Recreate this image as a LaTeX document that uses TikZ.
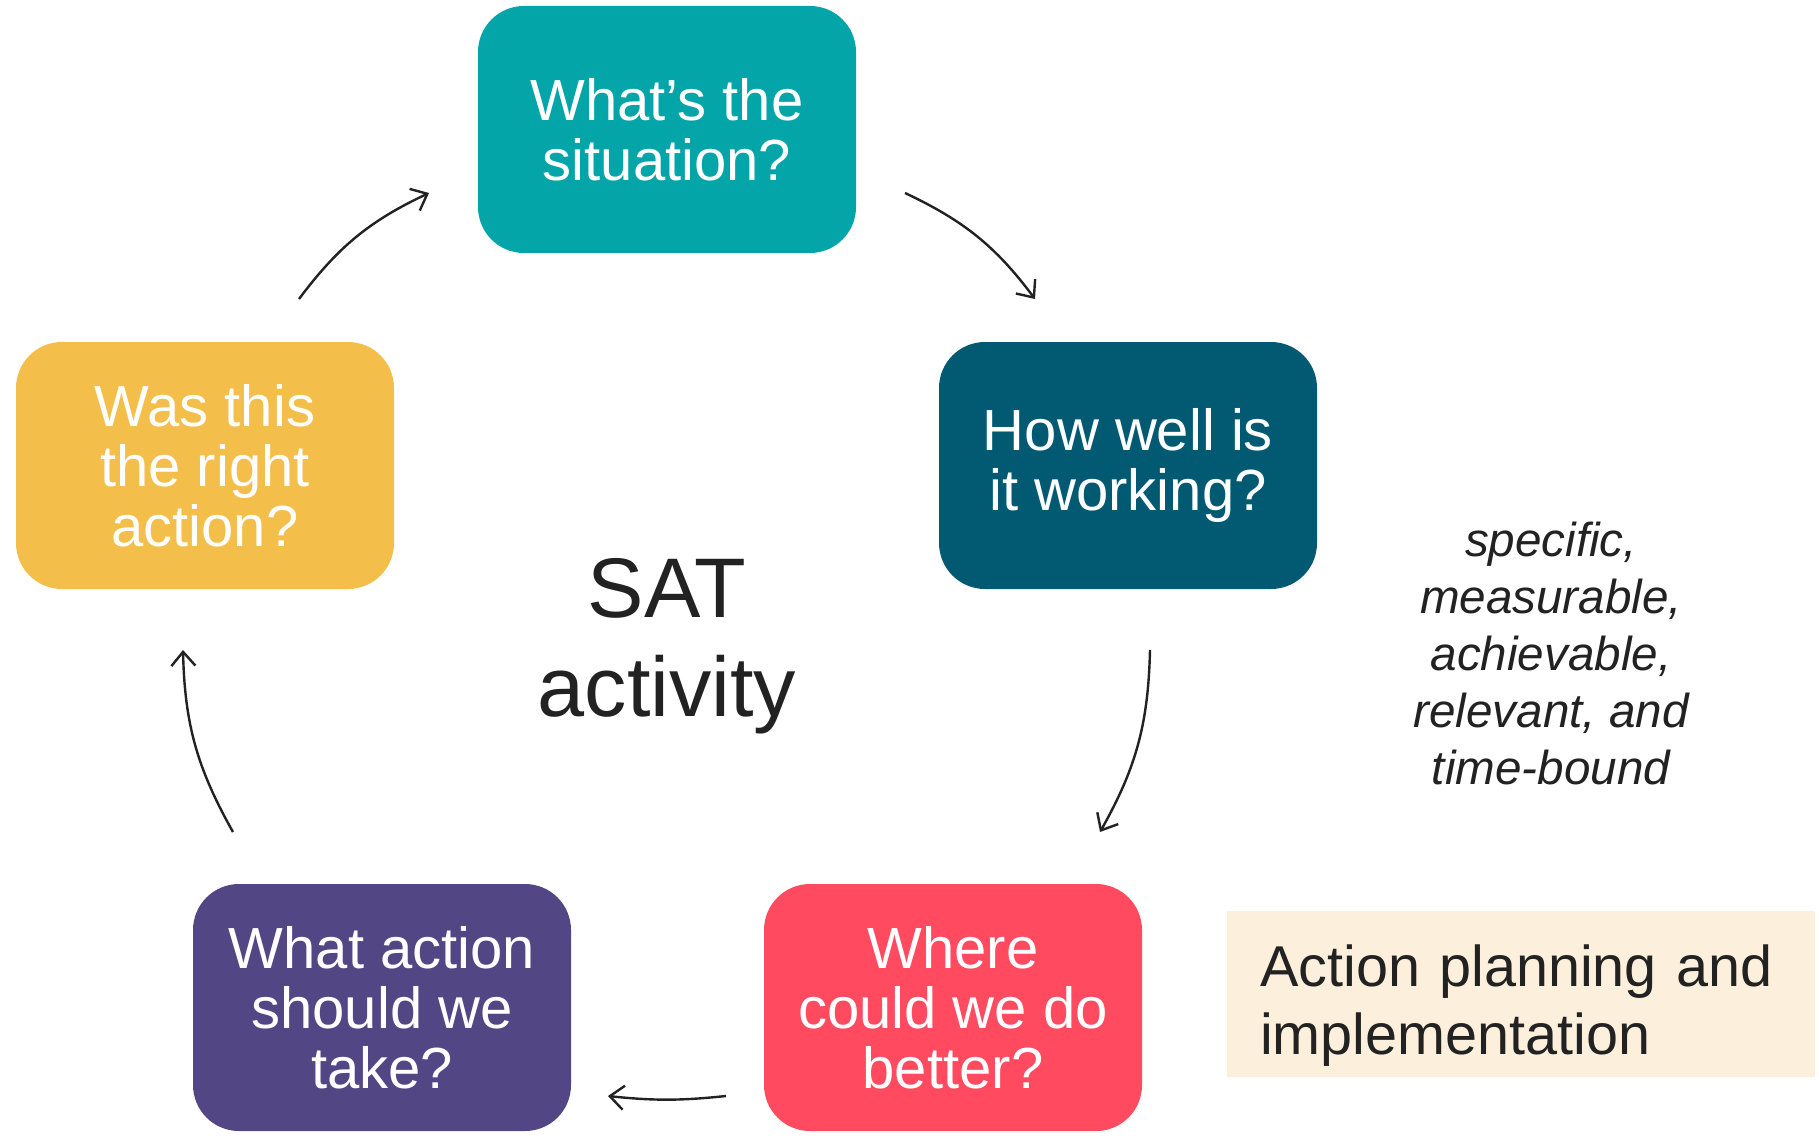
\documentclass[tikz,border=0pt]{standalone}
\usepackage{fontspec}
\setmainfont{Liberation Sans}
\usetikzlibrary{arrows.meta}
\definecolor{cteal}{HTML}{03A5A8}
\definecolor{cdteal}{HTML}{015A71}
\definecolor{cyellow}{HTML}{F4BE4A}
\definecolor{cpurple}{HTML}{534685}
\definecolor{cred}{HTML}{FF4A5F}
\definecolor{cbeige}{HTML}{FCF0DC}
\definecolor{cink}{HTML}{222222}
\tikzset{
  qbox/.style={rounded corners=23pt, minimum width=189pt, minimum height=123.5pt,
    inner sep=0pt, align=center, text=white,
    font=\fontsize{29pt}{30pt}\selectfont},
  cyc/.style={draw=cink, line width=1.2pt, -{Straight Barb[length=7pt,width=12pt,line width=1.2pt]}},
}
\begin{document}
\begin{tikzpicture}[x=0.5pt,y=-0.5pt]
\useasboundingbox[fill=white] (0,0) rectangle (1819,1139);
% boxes
\node[qbox, fill=cteal]   (sit)  at (667,129.5)  {What’s the\\situation?};
\node[qbox, fill=cdteal]  (how)  at (1128,465.5) {How well is\\it working?};
\node[qbox, fill=cyellow] (was)  at (205,465.5)  {Was this\\the right\\action?};
\node[qbox, fill=cpurple] (act)  at (382,1007.5) {What action\\should we\\take?};
\node[qbox, fill=cred]    (bet)  at (953,1007.5) {Where\\could we do\\better?};
% centre title
\node[align=center, text=cink, font=\fontsize{42.3pt}{49.5pt}\selectfont] (sat) at (667,646) {SAT\\activity};
% side note
\node[align=center, text=cink, font=\fontsize{23.8pt}{28.5pt}\selectfont\itshape] (smart) at (1551,653)
  {specific,\\measurable,\\achievable,\\relevant, and\\time-bound};
% beige label
\node[fill=cbeige, minimum width=294pt, minimum height=83pt, inner sep=0pt] (plan) at (1521,994) {};
\node[inner xsep=16.5pt, inner ysep=0pt, text width=261pt, align=left, text=cink,
  font=\fontsize{28.8pt}{34pt}\selectfont] (plantext) at (1521,1006)
  {Action planning and\\implementation};
% arrow end points
\coordinate (a1s) at (299,299);  \coordinate (a1e) at (429,193);
\coordinate (a2s) at (905,193);  \coordinate (a2e) at (1035,299);
\coordinate (a3s) at (1150,650); \coordinate (a3e) at (1100,832);
\coordinate (a4s) at (726,1096); \coordinate (a4e) at (608,1096);
\coordinate (a5s) at (233,832);  \coordinate (a5e) at (183,650);
\draw[cyc] (a1s) to[bend left=14] (a1e);
\draw[cyc] (a2s) to[bend left=14] (a2e);
\draw[cyc] (a3s) to[bend left=14] (a3e);
\draw[cyc] (a4s) to[bend left=6] (a4e);
\draw[cyc] (a5s) to[bend left=14] (a5e);
\end{tikzpicture}
\end{document}
